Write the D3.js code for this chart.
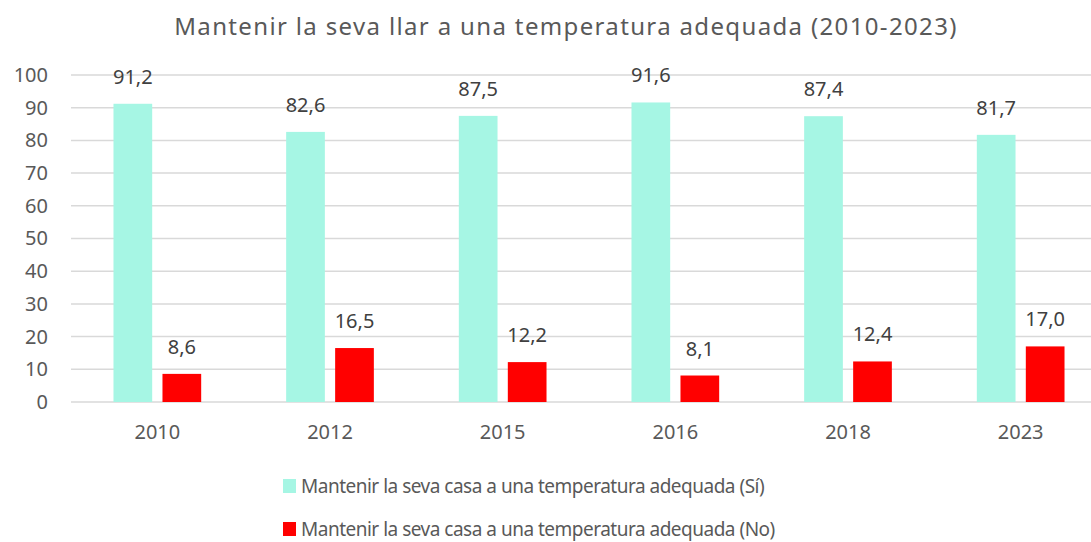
<!DOCTYPE html>
<html>
<head>
<meta charset="utf-8">
<script src="https://cdn.jsdelivr.net/npm/d3@7"></script>
<style>
  body { margin: 0; background: #fff; }
  svg { display: block; font-family: "Noto Sans", "Open Sans", sans-serif; }
</style>
</head>
<body>
<svg id="chart"></svg>
<script>
// Dades del gràfic
var anys = ["2010", "2012", "2015", "2016", "2018", "2023"];
var series = ["Mantenir la seva casa a una temperatura adequada (Sí)",
              "Mantenir la seva casa a una temperatura adequada (No)"];
var valorsSi = [91.2, 82.6, 87.5, 91.6, 87.4, 81.7];
var valorsNo = [8.6, 16.5, 12.2, 8.1, 12.4, 17.0];
var colors = ["#a6f6e4", "#ff0000"];
var ticksY = [0, 10, 20, 30, 40, 50, 60, 70, 80, 90, 100];
var titol = "Mantenir la seva llar a una temperatura adequada (2010-2023)";

var W = 1091, H = 542;
var plotLeft = 71, plotRight = 1107, plotTop = 75, plotBottom = 402;
var fontText = "'Noto Sans', 'Open Sans', sans-serif";

var svg = d3.select("#chart").attr("width", W).attr("height", H);

var x = d3.scaleBand().domain(anys).range([plotLeft, plotRight]).paddingInner(0).paddingOuter(0);
var grup = 87.7;
var x1 = d3.scaleBand().domain([0, 1])
  .range([(x.bandwidth() - grup) / 2, (x.bandwidth() + grup) / 2])
  .paddingInner(0.21).paddingOuter(0);
var y = d3.scaleLinear().domain([0, 100]).range([plotBottom, plotTop]);

// Línies de la graella
svg.append("g").selectAll("line")
  .data(ticksY)
  .enter().append("line")
  .attr("x1", plotLeft).attr("x2", plotRight)
  .attr("y1", function(d) { return y(d); })
  .attr("y2", function(d) { return y(d); })
  .attr("stroke", "#d9d9d9")
  .attr("stroke-width", 1.5);

// Eix Y
var eixY = svg.append("g")
  .attr("transform", "translate(" + plotLeft + ",0)")
  .call(d3.axisLeft(y).tickValues(ticksY).tickSize(0).tickPadding(23));
eixY.select(".domain").remove();
eixY.attr("font-family", fontText);
eixY.selectAll("text").attr("fill", "#595959").style("font-size", "20px");

// Eix X
var eixX = svg.append("g")
  .attr("transform", "translate(0," + plotBottom + ")")
  .call(d3.axisBottom(x).tickSize(0).tickPadding(23));
eixX.select(".domain").remove();
eixX.attr("font-family", fontText);
eixX.selectAll("text").attr("fill", "#595959").style("font-size", "20px");

// Barres
var dades = [valorsSi, valorsNo];
dades.forEach(function(vals, s) {
  var g = svg.append("g");
  g.selectAll("rect")
    .data(vals)
    .enter().append("rect")
    .attr("x", function(d, i) { return x(anys[i]) + x1(s); })
    .attr("y", function(d) { return y(d); })
    .attr("width", x1.bandwidth())
    .attr("height", function(d) { return y(0) - y(d); })
    .attr("fill", colors[s]);

  g.selectAll("text")
    .data(vals)
    .enter().append("text")
    .attr("x", function(d, i) { return x(anys[i]) + x1(s) + x1.bandwidth() / 2; })
    .attr("y", function(d) { return y(d) - 20; })
    .attr("text-anchor", "middle")
    .attr("fill", "#404040")
    .style("font-size", "20px")
    .text(function(d) { return d.toFixed(1).replace(".", ","); });
});

// Títol
svg.append("text")
  .attr("x", 566).attr("y", 35)
  .attr("text-anchor", "middle")
  .attr("fill", "#595959")
  .style("font-size", "24px")
  .style("letter-spacing", "1.35px")
  .text(titol);

// Llegenda
var llegenda = svg.append("g").selectAll("g")
  .data(series)
  .enter().append("g")
  .attr("transform", function(d, i) { return "translate(283," + (486 + i * 43) + ")"; });
llegenda.append("rect")
  .attr("x", 0).attr("y", -7)
  .attr("width", 13).attr("height", 14)
  .attr("fill", function(d, i) { return colors[i]; });
llegenda.append("text")
  .attr("x", 18).attr("y", 7)
  .attr("fill", "#595959")
  .style("font-size", "19px")
  .style("letter-spacing", "-0.5px")
  .text(function(d) { return d; });
</script>
</body>
</html>
